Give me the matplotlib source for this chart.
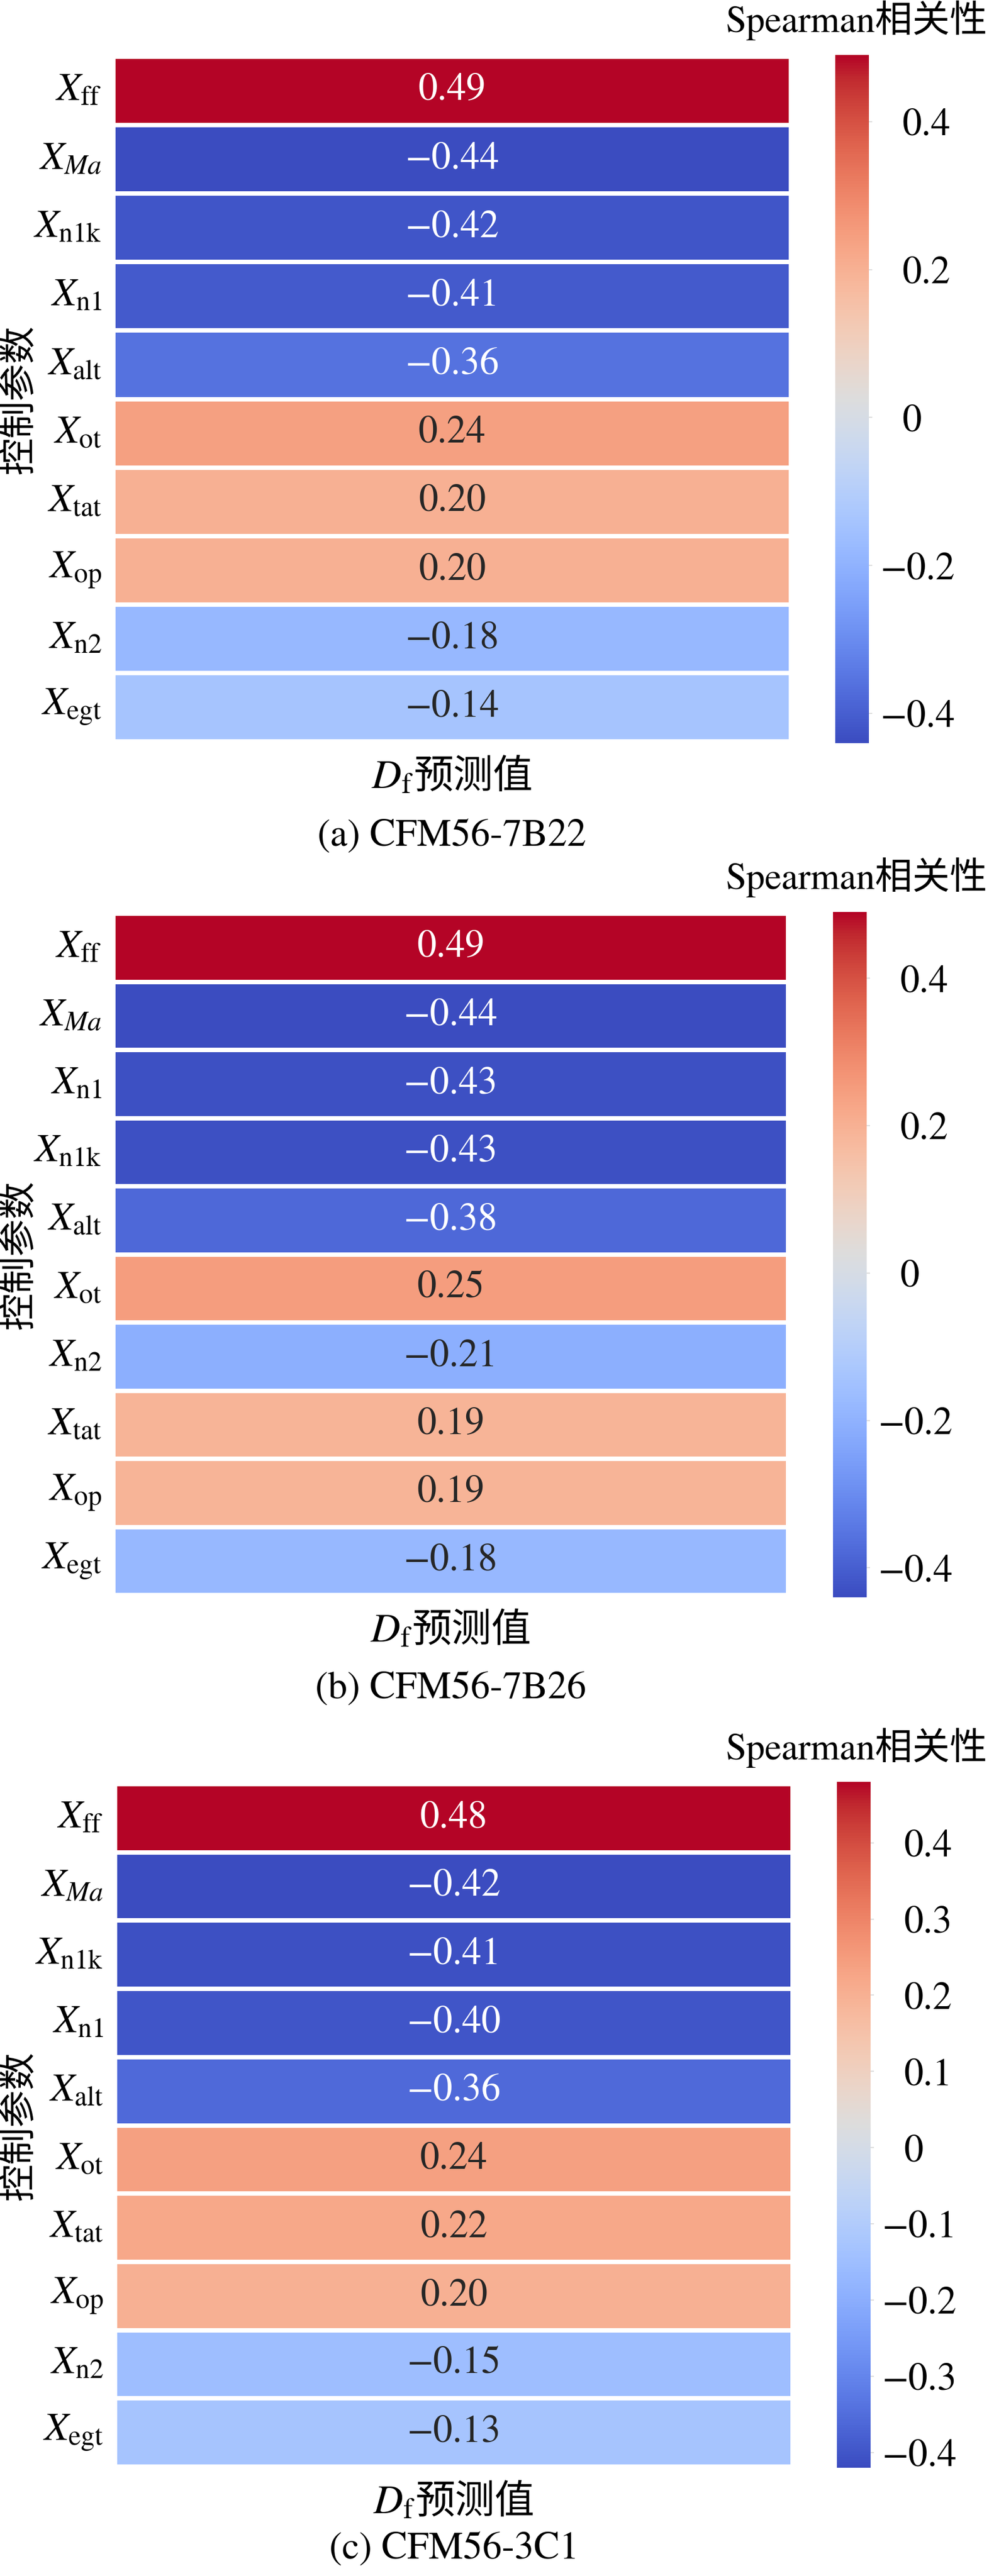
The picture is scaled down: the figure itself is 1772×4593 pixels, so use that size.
import numpy as np
import matplotlib
matplotlib.use("Agg")
import matplotlib.pyplot as plt
import matplotlib.transforms as mtransforms
import seaborn as sns

plt.rcParams['font.family'] = ['STIXGeneral', 'Noto Sans CJK SC']
plt.rcParams['mathtext.fontset'] = 'stix'
plt.rcParams['axes.unicode_minus'] = True

# 三台发动机的 Spearman 相关性
labels_a = ["ff", "Ma", "n1k", "n1", "alt", "ot", "tat", "op", "n2", "egt"]
values_a = [0.49, -0.44, -0.42, -0.41, -0.36, 0.24, 0.20, 0.20, -0.18, -0.14]
ticks_a = [0.4, 0.2, 0.0, -0.2, -0.4]

labels_b = ["ff", "Ma", "n1", "n1k", "alt", "ot", "n2", "tat", "op", "egt"]
values_b = [0.49, -0.44, -0.43, -0.43, -0.38, 0.25, -0.21, 0.19, 0.19, -0.18]
ticks_b = [0.4, 0.2, 0.0, -0.2, -0.4]

labels_c = ["ff", "Ma", "n1k", "n1", "alt", "ot", "tat", "op", "n2", "egt"]
values_c = [0.48, -0.42, -0.41, -0.40, -0.36, 0.24, 0.22, 0.20, -0.15, -0.13]
ticks_c = [0.4, 0.3, 0.2, 0.1, 0.0, -0.1, -0.2, -0.3, -0.4]

captions = ["(a) CFM56-7B22", "(b) CFM56-7B26", "(c) CFM56-3C1"]

W, H = 1772, 4593
fig = plt.figure(figsize=(W / 300, H / 300), dpi=300)

# 像素位置 (x0, x1, y_top, y_bottom)
hm_boxes = [(202, 1410, 101, 1322), (202, 1405, 1629, 2844), (205, 1413, 3181, 4398)]
cb_boxes = [(1489, 1549, 98, 1325), (1485, 1545, 1626, 2848), (1492, 1552, 3177, 4400)]
cap_offsets = [187, 185, 165]


def px_axes(box):
    x0, x1, yt, yb = box
    return fig.add_axes([x0 / W, 1 - yb / H, (x1 - x0) / W, (yb - yt) / H])


def fmt_num(v, nd):
    if abs(v) < 1e-9:
        return "0"
    return f"{v:.{nd}f}".replace("-", "\u2212")


def ylab(s):
    if s == "Ma":
        return r"$X_{Ma}$"
    return r"$X_{\rm " + s + "}$"


panels = [(labels_a, values_a, ticks_a), (labels_b, values_b, ticks_b), (labels_c, values_c, ticks_c)]

renderer = fig.canvas.get_renderer()
fs = 16.5
minus_w = 0.564 * fs / 72  # 负号宽度 (英寸)

for i, (labs, vals, ticks) in enumerate(panels):
    ax = px_axes(hm_boxes[i])
    cax = px_axes(cb_boxes[i])
    data = np.array(vals).reshape(-1, 1)
    annot = np.array([fmt_num(v, 2) for v in vals]).reshape(-1, 1)
    sns.heatmap(data, ax=ax, cbar_ax=cax, cmap="coolwarm", annot=annot, fmt="",
                linewidths=1.5, linecolor="white",
                annot_kws={"fontsize": fs},
                xticklabels=False, yticklabels=[ylab(s) for s in labs])
    ax.tick_params(axis="y", length=0, pad=5, labelsize=17, rotation=0)
    ax.tick_params(axis="x", length=0)

    cax.set_yticks(ticks)
    cax.set_yticklabels([fmt_num(t, 1) for t in ticks])
    cax.tick_params(axis="y", length=1.5, width=0.5, color="#dddddd", pad=3.5, labelsize=fs)
    for sp in cax.spines.values():
        sp.set_visible(False)
    # 正数刻度标签与负数的数字对齐
    shift = mtransforms.ScaledTranslation(minus_w, 0, fig.dpi_scale_trans)
    for t, lab in zip(ticks, cax.get_yticklabels()):
        if t >= 0:
            lab.set_transform(lab.get_transform() + shift)

    x0, x1, yt, yb = hm_boxes[i]
    xc = (x0 + x1) / 2 / W

    # 标题
    fig.text(1760 / W, 1 - (yt - 44) / H, "Spearman相关性", ha="right", va="baseline", fontsize=16)

    # 纵轴标签
    fig.text(36 / W, 1 - (yt + yb) / 2 / H, "控制参数", rotation=90, ha="center", va="center", fontsize=16)

    # 横轴标签: D_f + 预测值
    ybase = 1 - (yb + 83) / H
    t1 = fig.text(0, ybase, r"$D_{\rm f}$", ha="left", va="baseline", fontsize=17.5)
    t2 = fig.text(0, ybase, "预测值", ha="left", va="baseline", fontsize=17)
    w1 = t1.get_window_extent(renderer).width / W
    w2 = t2.get_window_extent(renderer).width / W
    start = xc - (w1 + w2) / 2
    t1.set_x(start)
    t2.set_x(start + w1)

    # 子图说明
    fig.text(xc, 1 - (yb + cap_offsets[i]) / H, captions[i], ha="center", va="baseline", fontsize=fs)

fig.savefig("out.png", dpi=300)
